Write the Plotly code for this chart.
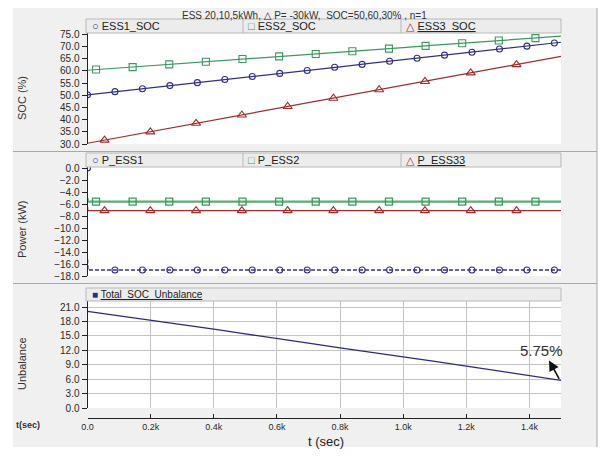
import plotly.graph_objects as go

# The page body has an 8px default margin, so the figure is drawn 8px in from the
# window's top-left corner; coordinates below are given in window pixels.
OFF = 8
W, H = 606 - OFF, 456 - OFF
def PX(x): return (x - OFF) / W
def PY(y): return 1 - (y - OFF) / H

# ---------------- data ----------------
t_soc = [0, 100, 200, 300, 400, 500, 600, 700, 800, 900, 1000, 1100, 1200, 1300, 1400, 1500]
ess1_soc = [50.2, 51.6, 53.1, 54.5, 56.0, 57.4, 58.8, 60.3, 61.7, 63.2, 64.6, 66.0, 67.5, 68.9, 70.4, 71.8]
ess2_soc = [60.3, 61.2, 62.2, 63.1, 64.0, 65.0, 65.9, 66.8, 67.8, 68.7, 69.6, 70.6, 71.5, 72.4, 73.4, 74.3]
ess3_soc = [30.3, 32.7, 35.1, 37.4, 39.8, 42.2, 44.6, 47.0, 49.3, 51.7, 54.1, 56.5, 58.9, 61.2, 63.6, 66.0]

t_mk1 = [0, 87, 174, 261, 348, 435, 522, 609, 696, 783, 870, 957, 1044, 1131, 1218, 1305, 1392, 1479]
ess1_mk = [50.2, 51.5, 52.7, 54.0, 55.2, 56.5, 57.7, 59.0, 60.2, 61.5, 62.7, 64.0, 65.2, 66.5, 67.7, 69.0, 70.2, 71.5]
t_mk2 = [27, 143, 259, 375, 491, 607, 723, 839, 955, 1071, 1187, 1303, 1419]
ess2_mk = [60.6, 61.6, 62.7, 63.8, 64.9, 66.0, 67.0, 68.1, 69.2, 70.3, 71.4, 72.5, 73.5]
t_mk3 = [54, 199, 344, 489, 634, 779, 924, 1069, 1214, 1359]
ess3_mk = [31.6, 35.0, 38.5, 41.9, 45.4, 48.8, 52.3, 55.7, 59.2, 62.6]

t_p = [0, 1, 1500]
p_ess1 = [-15.2, -17.0, -17.0]
p_ess2 = [-5.0, -5.6, -5.6]
p_ess3 = [-6.4, -7.1, -7.1]
p_ess1_mk = [0.0] + [-17.0] * 17
p_ess2_mk = [-5.6] * 13
p_ess3_mk = [-7.1] * 10

t_unb = [0, 100, 200, 300, 400, 500, 600, 700, 800, 900, 1000, 1100, 1200, 1300, 1400, 1500]
unbalance = [20.1, 19.2, 18.3, 17.3, 16.4, 15.4, 14.5, 13.5, 12.5, 11.6, 10.6, 9.7, 8.7, 7.7, 6.7, 5.75]

x_tickvals = [0, 200, 400, 600, 800, 1000, 1200, 1400]
x_ticktext = ["0.0", "0.2k", "0.4k", "0.6k", "0.8k", "1.0k", "1.2k", "1.4k"]
soc_ticks = [30, 35, 40, 45, 50, 55, 60, 65, 70, 75]
p_ticks = [0, -2, -4, -6, -8, -10, -12, -14, -16, -18]
unb_ticks = [0, 3, 6, 9, 12, 15, 18, 21]

C1 = "#30308a"
C2 = "#3a9a5c"
C2b = "#5aac74"
C3 = "#a3292b"
CU = "#2c2c7c"
FONT = "Liberation Sans, Arial, DejaVu Sans, sans-serif"

fig = go.Figure()

# SOC panel
fig.add_trace(go.Scatter(x=t_soc, y=ess1_soc, mode="lines", line=dict(color=C1, width=1.2), xaxis="x3", yaxis="y"))
fig.add_trace(go.Scatter(x=t_soc, y=ess2_soc, mode="lines", line=dict(color=C2, width=1.2), xaxis="x3", yaxis="y"))
fig.add_trace(go.Scatter(x=t_soc, y=ess3_soc, mode="lines", line=dict(color=C3, width=1.2), xaxis="x3", yaxis="y"))
fig.add_trace(go.Scatter(x=t_mk1, y=ess1_mk, mode="markers", marker=dict(symbol="circle-open", size=6, color=C1, line=dict(width=1.1)), xaxis="x3", yaxis="y"))
fig.add_trace(go.Scatter(x=t_mk2, y=ess2_mk, mode="markers", marker=dict(symbol="square-open", size=7, color=C2, line=dict(width=1.1)), xaxis="x3", yaxis="y"))
fig.add_trace(go.Scatter(x=t_mk3, y=ess3_mk, mode="markers", marker=dict(symbol="triangle-up-open", size=8, color=C3, line=dict(width=1.1)), xaxis="x3", yaxis="y"))

# Power panel
fig.add_trace(go.Scatter(x=t_p, y=p_ess2, mode="lines", line=dict(color=C2b, width=2.2), xaxis="x2", yaxis="y2"))
fig.add_trace(go.Scatter(x=t_p, y=p_ess3, mode="lines", line=dict(color=C3, width=1.3), xaxis="x2", yaxis="y2"))
fig.add_trace(go.Scatter(x=t_p, y=p_ess1, mode="lines", line=dict(color=C1, width=1.6, dash="4px,2px"), xaxis="x2", yaxis="y2"))
fig.add_trace(go.Scatter(x=t_mk1, y=p_ess1_mk, mode="markers", marker=dict(symbol="circle-open", size=6, color=C1, line=dict(width=1.1)), xaxis="x2", yaxis="y2"))
fig.add_trace(go.Scatter(x=t_mk2, y=p_ess2_mk, mode="markers", marker=dict(symbol="square-open", size=7, color=C2, line=dict(width=1.3)), xaxis="x2", yaxis="y2"))
fig.add_trace(go.Scatter(x=t_mk3, y=p_ess3_mk, mode="markers", marker=dict(symbol="triangle-up-open", size=8, color=C3, line=dict(width=1.1)), xaxis="x2", yaxis="y2"))

# Unbalance panel
fig.add_trace(go.Scatter(x=t_unb, y=unbalance, mode="lines", line=dict(color=CU, width=1.3), xaxis="x", yaxis="y3"))

xdom = [PX(87.5), PX(561)]
tickfont = dict(family=FONT, size=10, color="#2a2a2a")
yax_common = dict(showline=True, linecolor="#222", linewidth=1, ticks="outside", ticklen=5, automargin=False,
                  tickcolor="#222", tickfont=tickfont, tickformat=".1f", zeroline=False)

fig.update_layout(
    width=W, height=H, autosize=False, showlegend=False,
    margin=dict(l=0, r=0, t=0, b=0, pad=0),
    paper_bgcolor="#f0f0f0", plot_bgcolor="white",
    font=dict(family=FONT, color="#333"),
    xaxis=dict(domain=xdom, range=[0, 1500], anchor="free", position=PY(418), automargin=False,
               showline=True, linecolor="#222", linewidth=1, ticks="inside", ticklen=4, tickcolor="#222",
               tickvals=x_tickvals, ticktext=x_ticktext, tickfont=dict(family=FONT, size=9, color="#2a2a2a"),
               showgrid=True, gridcolor="#c4c4c4", gridwidth=1, zeroline=False),
    xaxis2=dict(domain=xdom, range=[0, 1500], anchor="y2", visible=False, automargin=False),
    xaxis3=dict(domain=xdom, range=[0, 1500], anchor="y", visible=False, automargin=False),
    yaxis=dict(domain=[PY(144), PY(33)], range=[30, 75.6], anchor="x3", tickvals=soc_ticks, showgrid=False, **yax_common),
    yaxis2=dict(domain=[PY(276), PY(167)], range=[-18, 0.17], anchor="x2", tickvals=p_ticks, showgrid=False, **yax_common),
    yaxis3=dict(domain=[PY(408), PY(301)], range=[0, 22.25], anchor="x", tickvals=unb_ticks, showgrid=True,
                gridcolor="#c4c4c4", gridwidth=1, **yax_common),
)

shapes = []
# white window area outside the gray panel
for (x0, y0, x1, y1) in [(OFF, OFF, 13, 456), (597, OFF, 606, 456), (OFF, 447, 606, 456)]:
    shapes.append(dict(type="rect", xref="paper", yref="paper", x0=PX(x0), x1=PX(x1), y0=PY(y1), y1=PY(y0),
                       fillcolor="white", line=dict(width=0), layer="above"))
# panel edges / separators
shapes.append(dict(type="line", xref="paper", yref="paper", x0=PX(597), x1=PX(597), y0=PY(447), y1=PY(OFF), line=dict(color="#a8a8a8", width=1)))
for ys in [151.5, 283.5]:
    shapes.append(dict(type="line", xref="paper", yref="paper", x0=PX(13), x1=PX(597), y0=PY(ys), y1=PY(ys), line=dict(color="#a8a8a8", width=1)))
# legend bars
for (y0, y1, seps) in [(19, 33, [243, 401]), (153, 167, [243, 401]), (288, 301, [])]:
    shapes.append(dict(type="rect", xref="paper", yref="paper", x0=PX(86), x1=PX(561), y0=PY(y1), y1=PY(y0),
                       fillcolor="#ececec", line=dict(color="#b8b8b8", width=1)))
    for s in seps:
        shapes.append(dict(type="line", xref="paper", yref="paper", x0=PX(s), x1=PX(s), y0=PY(y1), y1=PY(y0), line=dict(color="#b8b8b8", width=1)))
fig.update_layout(shapes=shapes)

ann = []
def txt(x, y, s, size=11, color="#333", xanchor="left", angle=0, yanchor="middle"):
    ann.append(dict(xref="paper", yref="paper", x=PX(x), y=PY(y), text=s, showarrow=False, xanchor=xanchor,
                    yanchor=yanchor, textangle=angle, font=dict(family=FONT, size=size, color=color)))

txt(304, OFF + 0.5, "ESS 20,10,5kWh, \u25b3 P= -30kW,  SOC=50,60,30% , n=1", size=10, xanchor="center", yanchor="top")
legend_rows = [
    (26, [("\u25cb", C1, "ESS1_SOC", False), ("\u25a1", C2, "ESS2_SOC", False), ("\u25b3", C3, "ESS3_SOC", True)]),
    (160, [("\u25cb", C1, "P_ESS1", False), ("\u25a1", C2, "P_ESS2", False), ("\u25b3", C3, "P_ESS33", True)]),
]
cell_x = [90, 246, 404]
for (yy, items) in legend_rows:
    for cx, (sym, col, name, ul) in zip(cell_x, items):
        label = f"<u>{name}</u>" if ul else name
        txt(cx, yy, f"<span style='color:{col}'>{sym}</span> {label}", size=11, color="#222")
txt(90, 294, f"<span style='color:{CU}'>\u25a0</span> <u>Total_SOC_Unbalance</u>", size=10, color="#222")

txt(22, 98, "SOC (%)", size=11, xanchor="center", angle=-90)
txt(22, 230, "Power (kW)", size=11, xanchor="center", angle=-90)
txt(22, 363, "Unbalance", size=11, xanchor="center", angle=-90)
txt(14, 425, "<b>t(sec)</b>", size=9, color="#333")
txt(326, 441, "t (sec)", size=13, xanchor="center", color="#222")
txt(541, 350, "5.75%", size=15, xanchor="center", color="#333")

ann.append(dict(xref="x", yref="y3", x=1462, y=9.9, ax=11, ay=20, text="", showarrow=True,
                arrowhead=2, arrowsize=1.3, arrowwidth=1.6, arrowcolor="#111"))
fig.update_layout(annotations=ann)

fig.write_html("out.html")
